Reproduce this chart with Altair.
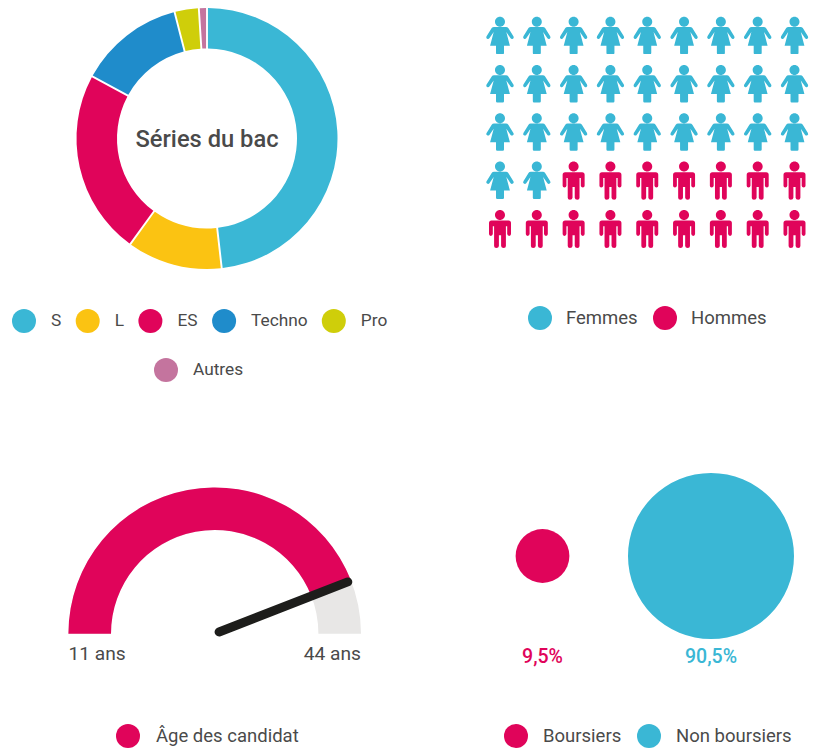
import math
import altair as alt
import pandas as pd

FONT = "Roboto"
TEXT = "#4a4a4a"

# donut
serie_labels = ["S", "L", "ES", "Techno", "Pro", "Autres"]
serie_values = [48.2, 11.8, 22.9, 13.1, 3.0, 1.0]
serie_colors = ["#3ab7d5", "#fbc312", "#e0045a", "#1f8ccb", "#cfce0a", "#c4749e"]

# pictogram
gender_labels = ["Femmes", "Hommes"]
gender_counts = [29, 16]
gender_colors = ["#3ab7d5", "#e0045a"]
picto_columns = 9

# gauge
age_min = 11
age_max = 44
age_value = 40.1
gauge_label = "Âge des candidat"
tick_labels = ["11 ans", "44 ans"]

# circles
bourse_labels = ["Boursiers", "Non boursiers"]
bourse_values = [9.5, 90.5]
bourse_texts = ["9,5%", "90,5%"]
bourse_colors = ["#e0045a", "#3ab7d5"]

WOMAN = (
    "M0,-18.8 A5,5 0 1 1 -0.01,-18.8 Z "
    "M-6,-8.6 L6,-8.6 Q7.5,-8.6 8.3,-7.4 L13.4,0.8 Q14.2,2.4 12.9,3.2 Q11.6,4 10.6,2.8 L6.3,-3.4 "
    "L9.9,10.2 L4,10.2 L4,17.4 Q4,18.6 2.8,18.6 L-2.8,18.6 Q-4,18.6 -4,17.4 L-4,10.2 L-9.9,10.2 "
    "L-6.3,-3.4 L-10.6,2.8 Q-11.6,4 -12.9,3.2 Q-14.2,2.4 -13.4,0.8 L-8.3,-7.4 Q-7.5,-8.6 -6,-8.6 Z"
)
MAN = (
    "M0,-18.8 A5,5 0 1 1 -0.01,-18.8 Z "
    "M-8.5,-8.2 L8.5,-8.2 Q11,-8.2 11,-5.7 L11,5.4 Q11,7.2 9.2,7.2 Q7.4,7.2 7.2,5.4 L7.2,-2.5 L5.9,-2.5 "
    "L5.9,17.4 Q5.9,19.4 3.7,19.4 Q1.3,19.4 1.1,17.4 L1.1,6.5 L-1.1,6.5 L-1.1,17.4 Q-1.3,19.4 -3.7,19.4 "
    "Q-5.9,19.4 -5.9,17.4 L-5.9,-2.5 L-7.2,-2.5 L-7.2,5.4 Q-7.4,7.2 -9.2,7.2 Q-11,7.2 -11,5.4 L-11,-5.7 Q-11,-8.2 -8.5,-8.2 Z"
)


def legend(x, y, columns, font_size=18.5, offset=15, padding=15):
    return alt.Legend(
        title=None, orient="none", legendX=x, legendY=y, columns=columns,
        symbolType="circle", symbolSize=576, symbolStrokeWidth=0,
        labelFont=FONT, labelFontSize=font_size, labelColor=TEXT,
        labelOffset=offset, columnPadding=padding, padding=0,
    )


# ---- panel A: donut
cum = pd.Series(serie_values).cumsum()
donut = pd.DataFrame({"serie": serie_labels, "end": cum, "start": cum - pd.Series(serie_values)})
theta_scale = alt.Scale(domain=[0, 100], range=[0, 2 * math.pi])
cx_a, cy_a = alt.value(199), alt.value(130.5)


def donut_layer(names, lg):
    return (
        alt.Chart(donut[donut.serie.isin(names)])
        .mark_arc(innerRadius=90, outerRadius=130.5, padAngle=0.012)
        .encode(
            x=cx_a, y=cy_a,
            theta=alt.Theta("start:Q", scale=theta_scale, stack=None),
            theta2="end:Q",
            color=alt.Color(
                "serie:N",
                scale=alt.Scale(domain=names, range=[serie_colors[serie_labels.index(n)] for n in names]),
                legend=lg,
            ),
        )
    )


center_label = (
    alt.Chart(pd.DataFrame({"t": ["Séries du bac"]}))
    .mark_text(font=FONT, fontSize=23.7, fontWeight=500, color=TEXT)
    .encode(text="t:N", x=cx_a, y=alt.value(132))
)
panel_a = alt.layer(
    donut_layer(serie_labels[:5], legend(4, 301, 5, 17.3, 15, 13.7)),
    donut_layer(serie_labels[5:], legend(146, 350, 1, 17.3)),
    center_label,
).resolve_scale(color="independent").properties(width=400, height=392)

# ---- panel B: pictogram
n_total = sum(gender_counts)
picto = pd.DataFrame({
    "col": [i % picto_columns for i in range(n_total)],
    "row": [i // picto_columns for i in range(n_total)],
    "gender": [gender_labels[0]] * gender_counts[0] + [gender_labels[1]] * gender_counts[1],
})
x_b = alt.Scale(domain=[0, 8], range=[92, 386.5])
y_b = alt.Scale(domain=[0, 4], range=[27.5, 220.7])
color_b = alt.Scale(domain=gender_labels, range=gender_colors)


def picto_layer(name, path):
    return (
        alt.Chart(picto[picto.gender == name])
        .mark_point(filled=True, opacity=1, shape=path, size=4, strokeWidth=0)
        .encode(
            x=alt.X("col:Q", scale=x_b, axis=None),
            y=alt.Y("row:Q", scale=y_b, axis=None),
            color=alt.Color("gender:N", scale=color_b, legend=legend(120, 298, 2, 18.5, 14, 15)),
        )
    )


panel_b = alt.layer(picto_layer(gender_labels[0], WOMAN), picto_layer(gender_labels[1], MAN)).properties(width=401, height=392)

# ---- panel C: gauge
R = 146.3
cx_c, cy_c = 206.7, 233.7
x_c = alt.Scale(domain=[-1, 1], range=[cx_c - R, cx_c + R])
y_c = alt.Scale(domain=[-1, 1], range=[cy_c + R, cy_c - R])
theta_c = alt.Scale(domain=[age_min, age_max], range=[-math.pi / 2, math.pi / 2])
gauge_df = pd.DataFrame({"start": [age_min, age_min], "end": [age_max, age_value], "kind": ["fond", gauge_label]})
ang = (age_value - age_min) / (age_max - age_min) * math.pi - math.pi / 2
needle_df = pd.DataFrame({
    "x": [0.03, 0.976 * math.sin(ang)], "y": [0.012, 0.976 * math.cos(ang)], "o": [0, 1],
})
gauge_bg = (
    alt.Chart(gauge_df[gauge_df.kind == "fond"])
    .mark_arc(innerRadius=103.7, outerRadius=R, color="#e8e7e6")
    .encode(
        x=alt.value(cx_c), y=alt.value(cy_c),
        theta=alt.Theta("start:Q", scale=theta_c, stack=None), theta2="end:Q",
    )
)
gauge_fg = (
    alt.Chart(gauge_df[gauge_df.kind == gauge_label])
    .mark_arc(innerRadius=103.7, outerRadius=R)
    .encode(
        x=alt.value(cx_c), y=alt.value(cy_c),
        theta=alt.Theta("start:Q", scale=theta_c, stack=None), theta2="end:Q",
        color=alt.Color(
            "kind:N", scale=alt.Scale(domain=[gauge_label], range=["#e0045a"]),
            legend=legend(108, 324, 1, 18.5, 16),
        ),
    )
)
needle = (
    alt.Chart(needle_df)
    .mark_line(color="#1d1d1b", strokeWidth=9, strokeCap="round")
    .encode(
        x=alt.X("x:Q", scale=x_c, axis=None),
        y=alt.Y("y:Q", scale=y_c, axis=None),
        order="o:Q",
    )
)
tick_text = [
    alt.Chart(pd.DataFrame({"t": [t], "x": [px], "y": [-0.137]}))
    .mark_text(font=FONT, fontSize=19.2, color=TEXT, align=al)
    .encode(text="t:N", x=alt.X("x:Q", scale=x_c, axis=None), y=alt.Y("y:Q", scale=y_c, axis=None))
    for t, px, al in zip(tick_labels, [-1, 1], ["left", "right"])
]
panel_c = alt.layer(gauge_bg, gauge_fg, needle, *tick_text).properties(width=400, height=349)

# ---- panel D: proportional circles
bourse = pd.DataFrame({"label": bourse_labels, "v": bourse_values, "t": bourse_texts, "i": [0, 1]})
x_d = alt.Scale(domain=[0, 1], range=[134.5, 303])
color_d = alt.Scale(domain=bourse_labels, range=bourse_colors)
circles = (
    alt.Chart(bourse)
    .mark_circle(opacity=1)
    .encode(
        x=alt.X("i:Q", scale=x_d, axis=None),
        y=alt.value(156),
        size=alt.Size("v:Q", scale=alt.Scale(domain=[0, 90.5], range=[0, 166 ** 2]), legend=None),
        color=alt.Color("label:N", scale=color_d, legend=legend(96, 324, 2, 18.5, 15, 15)),
    )
)
labels_d = (
    alt.Chart(bourse)
    .mark_text(font=FONT, fontSize=19.5, fontWeight=500)
    .encode(
        x=alt.X("i:Q", scale=x_d, axis=None),
        y=alt.value(257),
        text="t:N",
        color=alt.Color("label:N", scale=color_d, legend=None),
    )
)
panel_d = alt.layer(circles, labels_d).properties(width=401, height=349)

chart = (
    alt.concat(panel_a, panel_b, panel_c, panel_d, columns=2, spacing=0, bounds="flush")
    .resolve_scale(color="independent")
    .properties(padding=0, background="white")
    .configure_view(stroke=None)
)
chart.save("out.html", embed_options={"renderer": "svg", "actions": False})
